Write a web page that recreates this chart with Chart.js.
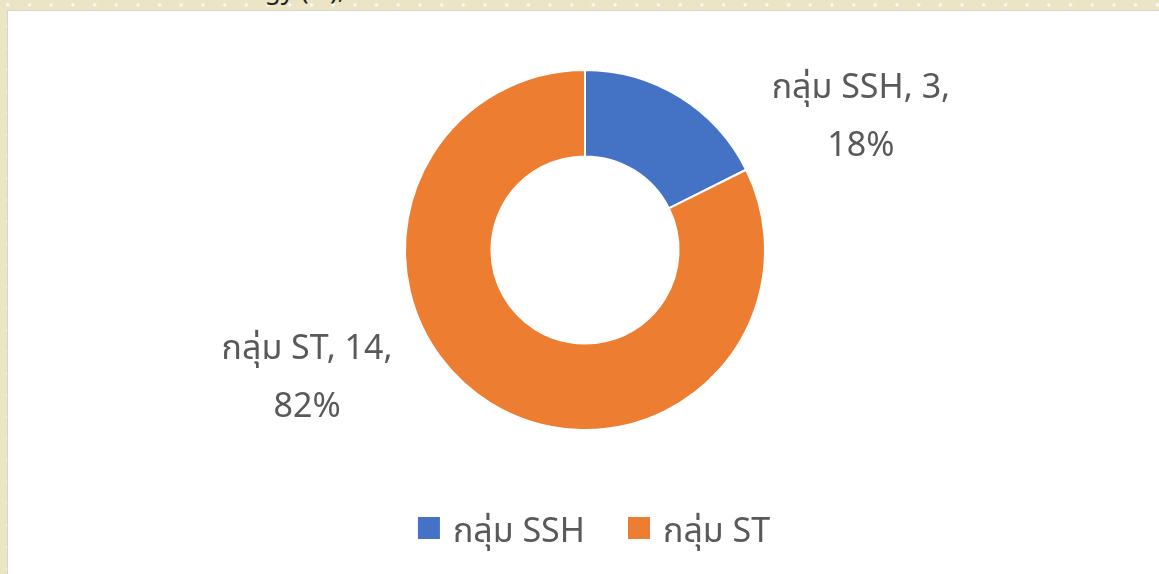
<!DOCTYPE html>
<html>
<head>
<meta charset="utf-8">
<script src="https://cdn.jsdelivr.net/npm/chart.js@4"></script>
<style>
  html, body { margin: 0; padding: 0; width: 1159px; height: 574px; overflow: hidden; }
  body {
    position: relative;
    background-color: #ebe5c6;
    background-image: radial-gradient(circle, rgba(255,255,255,0.9) 1.2px, transparent 2px);
    background-size: 21.7px 21.7px;
    background-position: -3px -6px;
  }
  #sheet {
    position: absolute; left: 7px; top: 10px; right: 0; bottom: 0;
    background: #fff;
    border-left: 1px solid #d4d4d4; border-top: 1px solid #d4d4d4;
  }
  #cut {
    position: absolute; left: 226px; top: -29px; height: 35px; overflow: hidden;
    font: 26px "Noto Sans", sans-serif; color: #222;
  }
  #chartBox { position: absolute; left: 0; top: 0; width: 1159px; height: 574px; }
</style>
</head>
<body>
<div id="sheet"></div>
<div id="cut">ategy (%),</div>
<div id="chartBox"><canvas id="pieChart"></canvas></div>
<script>
const groups = ['กลุ่ม SSH', 'กลุ่ม ST']
const counts = [3, 14]
const percents = ['18%', '82%']
const colors = ['#4472C4', '#ED7D31']

const textFont = '"Noto Sans", "Noto Sans Thai", Tahoma, sans-serif'
const textColor = '#595959'
const textSize = 34

// label anchors, in units of the outer radius from the centre
const labelOffsets = [[1.533, -0.739], [-1.544, 0.711]]

const dataLabels = {
  id: 'dataLabels',
  afterDatasetsDraw(chart) {
    const ctx = chart.ctx
    const meta = chart.getDatasetMeta(0)
    ctx.save()
    ctx.font = textSize + 'px ' + textFont
    ctx.fillStyle = textColor
    ctx.textAlign = 'center'
    ctx.textBaseline = 'middle'
    meta.data.forEach((arc, i) => {
      const x = arc.x + labelOffsets[i][0] * arc.outerRadius
      const y = arc.y + labelOffsets[i][1] * arc.outerRadius
      ctx.fillText(groups[i] + ', ' + counts[i] + ',', x, y - 29)
      ctx.fillText(percents[i], x, y + 29)
    })
    ctx.restore()
  }
}

// legend drawn under the doughnut
const bottomLegend = {
  id: 'bottomLegend',
  afterDraw(chart) {
    const ctx = chart.ctx
    ctx.save()
    ctx.font = textSize + 'px ' + textFont
    ctx.textBaseline = 'middle'
    const box = 22, gapText = 13, gapItem = 43
    const widths = groups.map(g => ctx.measureText(g).width)
    let total = widths.reduce((a, w) => a + box + gapText + w, 0) + gapItem * (groups.length - 1)
    let x = (chart.chartArea.left + chart.chartArea.right) / 2 - total / 2 + 9
    const y = 532
    groups.forEach((g, i) => {
      ctx.fillStyle = colors[i]
      ctx.fillRect(x, y - box / 2 - 4, box, box)
      ctx.fillStyle = textColor
      ctx.fillText(g, x + box + gapText, y)
      x += box + gapText + widths[i] + gapItem
    })
    ctx.restore()
  }
}

let pieGraph = new Chart(document.getElementById('pieChart'), {
  type: 'doughnut',
  data: {
    labels: groups,
    datasets: [{
      data: counts,
      backgroundColor: colors,
      borderColor: '#ffffff',
      borderWidth: 2
    }]
  },
  options: {
    responsive: true,
    maintainAspectRatio: false,
    animation: false,
    radius: 180,
    cutout: '52%',
    layout: { padding: { top: 0, bottom: 74, left: 11, right: 0 } },
    plugins: {
      legend: { display: false },
      tooltip: { enabled: false }
    }
  },
  plugins: [dataLabels, bottomLegend]
});
</script>
</body>
</html>
